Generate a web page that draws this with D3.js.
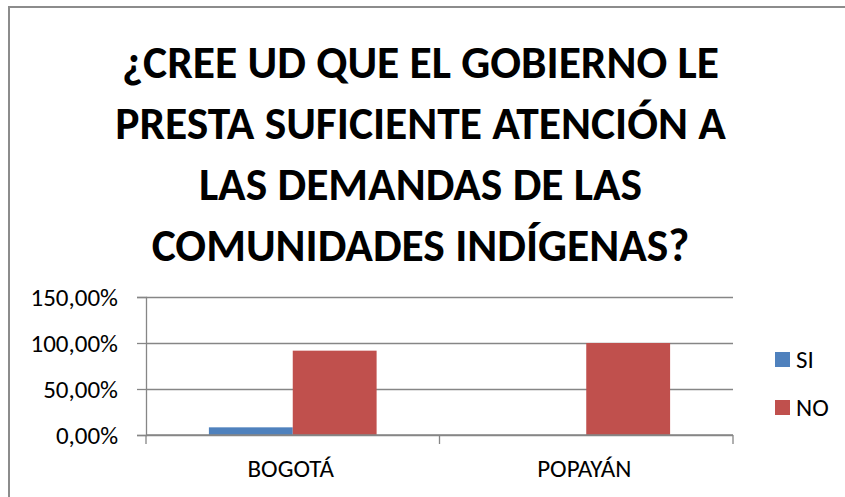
<!DOCTYPE html>
<html>
<head>
<meta charset="utf-8">
<script src="https://cdn.jsdelivr.net/npm/d3@7"></script>
<style>
  body { margin: 0; background: #fff; }
  text { font-family: Carlito, "Open Sans", sans-serif; }
</style>
</head>
<body>
<div id="chart"></div>
<script>
// data
const categories = ["BOGOTÁ", "POPAYÁN"];
const series = ["SI", "NO"];
const siValues = [8.33, 0];
const noValues = [91.67, 100];
const yTicks = [0, 50, 100, 150];
const titleLines = [
  "¿CREE UD QUE EL GOBIERNO LE",
  "PRESTA SUFICIENTE ATENCIÓN A",
  "LAS DEMANDAS DE LAS",
  "COMUNIDADES INDÍGENAS?"
];
const colors = {SI: "#4F81BD", NO: "#C0504D"};

const rows = categories.map((c, i) => ({cat: c, SI: siValues[i], NO: noValues[i]}));

const width = 845, height = 497;
const plot = {left: 146, right: 733, top: 297, bottom: 435};

const svg = d3.select("#chart").append("svg")
    .attr("width", width)
    .attr("height", height);

svg.append("rect")
    .attr("width", width).attr("height", height)
    .attr("fill", "#fff");

// chart border, runs off right and bottom
svg.append("rect")
    .attr("x", 9).attr("y", 7)
    .attr("width", 900).attr("height", 600)
    .attr("fill", "none")
    .attr("stroke", "#8c8c8c")
    .attr("stroke-width", 2);

// title
svg.append("g").selectAll("text")
  .data(titleLines)
  .join("text")
    .attr("x", width / 2 - 2)
    .attr("y", (d, i) => 78 + i * 61)
    .attr("text-anchor", "middle")
    .attr("font-size", "45.5px")
    .attr("font-weight", "bold")
    .attr("fill", "#000")
    .text(d => d);

// scales
const x0 = d3.scaleBand()
    .domain(categories)
    .range([plot.left, plot.right]);

const x1 = d3.scaleBand()
    .domain(series)
    .range([0, x0.bandwidth()])
    .paddingOuter(0.75);

const y = d3.scaleLinear()
    .domain([0, 150])
    .range([plot.bottom, plot.top]);

const fmt = v => d3.format(".2f")(v).replace(".", ",") + "%";

// y axis with grid lines
const yAxis = d3.axisLeft(y).tickValues(yTicks).tickSize(9).tickFormat(fmt);
svg.append("g")
    .attr("transform", `translate(${plot.left},0)`)
    .call(yAxis)
    .call(g => g.select(".domain").attr("stroke", "#868686").attr("stroke-width", 1.3))
    .call(g => g.selectAll(".tick line").attr("stroke", "#868686").attr("stroke-width", 1.3))
    .call(g => g.selectAll(".tick line").clone()
        .attr("x2", plot.right - plot.left))
    .call(g => g.selectAll(".tick text")
        .attr("x", -28)
        .attr("dy", "0.34em")
        .attr("font-size", "25px")
        .attr("fill", "#000")
        .attr("font-family", "Carlito, 'Open Sans', sans-serif"));

// bars
svg.append("g").selectAll("g")
  .data(rows)
  .join("g")
    .attr("transform", d => `translate(${x0(d.cat)},0)`)
  .selectAll("rect")
  .data(d => series.map(s => ({key: s, value: d[s]})))
  .join("rect")
    .attr("x", d => x1(d.key))
    .attr("width", x1.bandwidth())
    .attr("y", d => y(d.value))
    .attr("height", d => y(0) - y(d.value))
    .attr("fill", d => colors[d.key]);

// x axis
const xEdges = d3.scaleLinear().domain([0, categories.length]).range([plot.left, plot.right]);
const xAxisG = svg.append("g")
    .attr("transform", `translate(0,${plot.bottom})`);
xAxisG.append("line")
    .attr("x1", plot.left).attr("x2", plot.right)
    .attr("stroke", "#868686").attr("stroke-width", 1.3);
xAxisG.selectAll(".edge")
  .data(d3.range(categories.length + 1))
  .join("line")
    .attr("class", "edge")
    .attr("x1", d => xEdges(d)).attr("x2", d => xEdges(d))
    .attr("y1", 0).attr("y2", 9)
    .attr("stroke", "#868686").attr("stroke-width", 1.3);
xAxisG.selectAll(".lbl")
  .data(categories)
  .join("text")
    .attr("class", "lbl")
    .attr("x", d => x0(d) + x0.bandwidth() / 2 - 2)
    .attr("y", 42)
    .attr("text-anchor", "middle")
    .attr("font-size", "25px")
    .attr("fill", "#000")
    .text(d => d);

// legend
const legend = svg.append("g").selectAll("g")
  .data(series)
  .join("g")
    .attr("transform", (d, i) => `translate(775,${352 + i * 48})`);
legend.append("rect")
    .attr("width", 15).attr("height", 15)
    .attr("fill", d => colors[d]);
legend.append("text")
    .attr("x", 21).attr("y", 16)
    .attr("font-size", "25px")
    .attr("fill", "#000")
    .text(d => d);
</script>
</body>
</html>
